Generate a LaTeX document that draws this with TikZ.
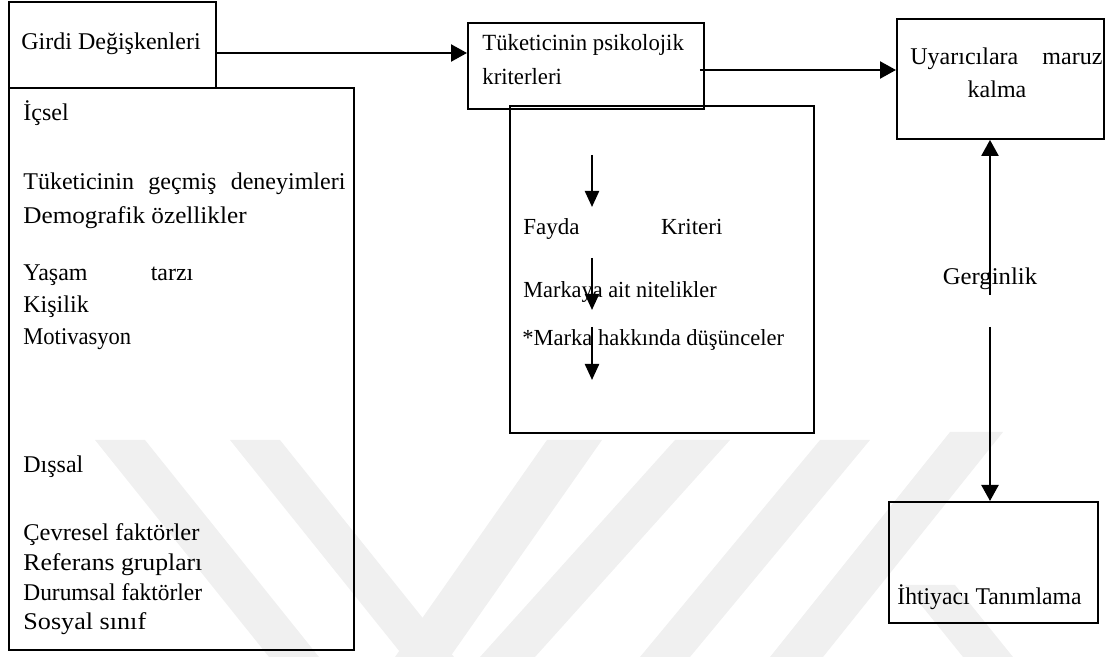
\documentclass[tikz,border=0pt]{standalone}
\usepackage{fontspec}
\usepackage{graphicx}
\setmainfont{Liberation Serif}
\usetikzlibrary{arrows.meta}
\newcommand{\wide}[2]{\scalebox{#1}[1]{#2}}
\begin{document}
\begin{tikzpicture}[x=0.5pt,y=-0.5pt,
  box/.style={draw, line width=0.95pt, inner sep=0pt, anchor=north west},
  fs/.style={font=\fontsize{#1}{14}\selectfont},
  txt/.style={anchor=base west, inner sep=0pt, fs=12},
  ctxt/.style={anchor=base, inner sep=0pt, fs=12},
  arr/.style={line width=1.15pt, -{Triangle[length=8pt,width=8.5pt]}},
  warr/.style={line width=1.15pt, -{Triangle[length=8pt,width=7pt]}},
  wmband/.style={fill=black!6, draw=none}]
\useasboundingbox (0,0) rectangle (1105,657);

% faint background bands
\fill[wmband] (95,440) -- (145,440) -- (319,657) -- (269,657) -- cycle;
\fill[wmband] (230,440) -- (280,440) -- (454,657) -- (404,657) -- cycle;
\fill[wmband] (547,440) -- (602,440) -- (450,657) -- (395,657) -- cycle;
\fill[wmband] (675,440) -- (730,440) -- (535,657) -- (480,657) -- cycle;
\fill[wmband] (820,440) -- (870,440) -- (690,657) -- (640,657) -- cycle;
\fill[wmband] (950,432) -- (1003,432) -- (823,657) -- (770,657) -- cycle;
\fill[wmband] (905,585) -- (955,585) -- (1013,657) -- (963,657) -- cycle;

% boxes
\node[box, minimum width=103.5pt, minimum height=43pt] (girdi) at (8,1) {};
\node[box, minimum width=172.5pt, minimum height=281pt] (inner) at (8,87) {};
\node[box, minimum width=118pt, minimum height=43pt] (psik) at (467,22) {};
\node[box, minimum width=152pt, minimum height=163.5pt] (fayda) at (509,105) {};
\node[box, minimum width=103.5pt, minimum height=60pt] (uyar) at (896,18) {};
\node[box, minimum width=104.5pt, minimum height=60.5pt] (ihtiyac) at (888,501) {};

% texts of the input variables
\node[txt] (t-girdi) at (21,50) {Girdi Değişkenleri};
\node[txt] (t-icsel) at (23,121) {İçsel};
\node[txt] (t-gecmis) at (23,190) {\makebox[161pt][l]{Tüketicinin\hfill geçmiş\hfill deneyimleri}};
\node[txt] (t-demo) at (23,224) {\wide{1.05}{Demografik özellikler}};
\node[txt] (t-yasam) at (23,281) {\makebox[85pt][l]{Yaşam\hfill tarzı}};
\node[txt] (t-kisilik) at (23,313) {Kişilik};
\node[txt] (t-motiv) at (23,345) {\wide{0.94}{Motivasyon}};
\node[txt] (t-dissal) at (23,473) {Dışsal};
\node[txt] (t-cevre) at (23,541) {\wide{1.02}{Çevresel faktörler}};
\node[txt] (t-ref) at (23,571) {\wide{1.07}{Referans grupları}};
\node[txt] (t-durum) at (23,601) {\wide{0.975}{Durumsal faktörler}};
\node[txt] (t-sosyal) at (23,630) {\wide{1.09}{Sosyal sınıf}};

% psychological criteria
\node[txt, fs=11.6] (t-psik1) at (482,51) {\wide{0.98}{Tüketicinin psikolojik}};
\node[txt, fs=11.6] (t-psik2) at (482,85) {\wide{0.98}{kriterleri}};

\node[txt, fs=11.5] (t-fayda) at (523,235) {\makebox[99.5pt][l]{Fayda\hfill Kriteri}};
\node[txt, fs=11.5] (t-marka1) at (523,298) {\wide{0.97}{Markaya ait nitelikler}};
\node[txt, fs=11.5] (t-marka2) at (522,346) {\wide{0.98}{*Marka hakkında düşünceler}};

% right column
\node[txt] (t-uyar1) at (910,65) {\makebox[96pt][l]{Uyarıcılara\hfill maruz}};
\node[ctxt] (t-uyar2) at (997,98) {kalma};

\node[ctxt] (gergin) at (990,285) {\wide{1.03}{Gerginlik}};
\node[txt] (t-ihtiyac) at (897,605) {\wide{0.985}{İhtiyacı Tanımlama}};

% main flow
\draw[arr] (girdi.east |- 0,53) -- (psik.west |- 0,53);
\draw[arr] ([xshift=-2.5pt]psik.east |- 0,70) -- (uyar.west |- 0,70);

% tension links
\coordinate (g-up) at (990,295);
\coordinate (g-down) at (990,327);
\draw[arr] (g-up) -- (g-up |- uyar.south);
\draw[arr] (g-down) -- (g-down |- ihtiyac.north);

% arrows inside the criteria box
\coordinate (f1a) at (592,155); \coordinate (f1b) at (592,207);
\coordinate (f2a) at (592,258); \coordinate (f2b) at (592,310);
\coordinate (f3a) at (592,327); \coordinate (f3b) at (592,380);
\draw[warr] (f1a) -- (f1b);
\draw[warr] (f2a) -- (f2b);
\draw[warr] (f3a) -- (f3b);
\end{tikzpicture}
\end{document}
